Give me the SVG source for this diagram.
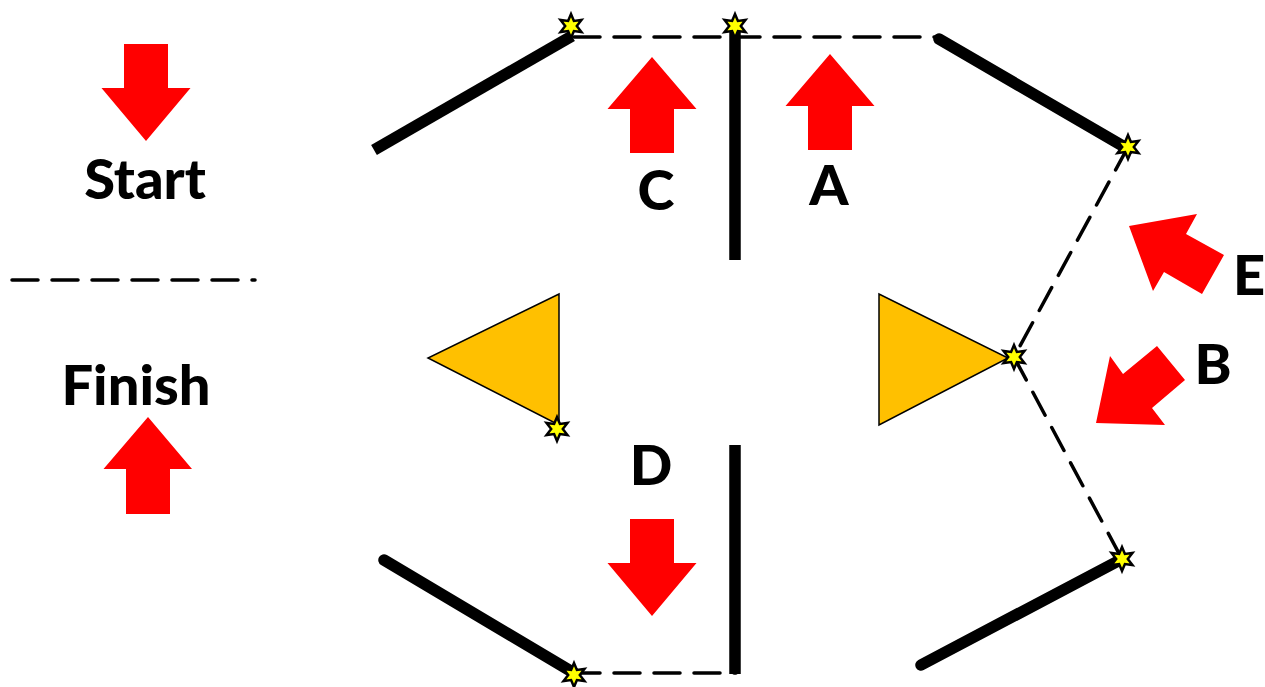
<svg xmlns="http://www.w3.org/2000/svg" width="1265" height="687" viewBox="0 0 1265 687">
<style>
.wall{fill:none;stroke:#000;stroke-width:11.5}
.r{stroke-linecap:round}
.dash{fill:none;stroke:#000;stroke-width:3.5;stroke-dasharray:26 14;stroke-linecap:round}
.arrow{fill:#f00}
.tri{fill:#ffc000;stroke:#000;stroke-width:1.5}
.star{fill:#ff0;stroke:#000;stroke-width:2.5;stroke-linejoin:miter}
text{font-family:Lato,"Open Sans","Liberation Sans",sans-serif;font-weight:900;font-size:56px;fill:#000}
</style>
<defs>
<path id="s" class="star" d="M0,-12 L2.9,-5 L10.5,-6 L5.8,0 L10.500,6 L2.9,5 L0,12 L-2.9,5 L-10.5,6 L-5.8,0 L-10.5,-6 L-2.9,-5 Z"/>
</defs>
<g id="connectors">
<path class="dash" d="M574,37 H940"/>
<path class="dash" d="M1128,147 L1014,357"/>
<path class="dash" d="M1014,357 L1122,559"/>
<path class="dash" d="M574,673 H736"/>
<path class="dash" d="M12,280 H255"/>
</g>
<g id="walls">
<path class="wall" d="M374,150 L572,36"/>
<path class="wall" d="M735,30 V260"/>
<path class="wall r" d="M939,39 L1128,149"/>
<path class="wall r" d="M384,560 L574,673"/>
<path class="wall" d="M735,445 V674"/>
<path class="wall r" d="M921,665 L1122,559"/>
</g>
<g id="triangle-left"><path class="tri" d="M559,294 V425 L428,358 Z"/></g>
<g id="triangle-right"><path class="tri" d="M879,294 V425 L1008,358 Z"/></g>
<g id="arrow-start"><path class="arrow" d="M124,44 H168 V88 H190.500 L146,141 L101.500,88 H124 Z"/></g>
<g id="arrow-finish"><path class="arrow" d="M126,514 H170 V469 H192 L148,417 L103.500,469 H126 Z"/></g>
<g id="arrow-c"><path class="arrow" d="M630,153 H674 V109 H696.500 L652,57 L607.500,109 H630 Z"/></g>
<g id="arrow-a"><path class="arrow" d="M808,150 H852 V106 H874.500 L830,54 L785.500,106 H808 Z"/></g>
<g id="arrow-d"><path class="arrow" d="M630,519 H674 V563 H696.500 L652,616 L607.500,563 H630 Z"/></g>
<g id="arrow-e"><path class="arrow" d="M1224,255 L1202,294 L1164,272 L1153,291 L1129,226 L1197,214 L1186,234 Z"/></g>
<g id="arrow-b"><path class="arrow" d="M1157,346 L1185,380 L1152,408 L1165,425 L1096,423 L1110,356 L1123,374 Z"/></g>
<g id="label-start"><text x="145" y="199" text-anchor="middle">Start</text></g>
<g id="label-finish"><text x="136" y="405" text-anchor="middle">Finish</text></g>
<g id="label-c"><text x="656" y="210" text-anchor="middle">C</text></g>
<g id="label-a"><text x="829" y="205" text-anchor="middle">A</text></g>
<g id="label-d"><text x="651" y="485" text-anchor="middle">D</text></g>
<g id="label-e"><text x="1233" y="295">E</text></g>
<g id="label-b"><text x="1213" y="384" text-anchor="middle">B</text></g>
<g id="markers">
<use href="#s" x="571" y="26"/>
<use href="#s" x="735" y="26"/>
<use href="#s" x="1128" y="147"/>
<use href="#s" x="1014" y="357"/>
<use href="#s" x="557" y="429"/>
<use href="#s" x="1122" y="559"/>
<use href="#s" x="574" y="675"/>
</g>
</svg>
